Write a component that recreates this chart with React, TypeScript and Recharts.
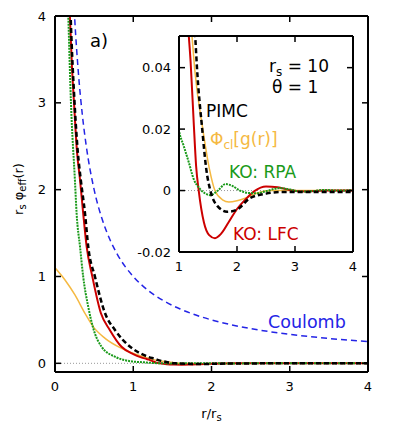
import React from 'react';
import { LineChart, Line, XAxis, YAxis, ReferenceLine } from 'recharts';

// ---- data ----
const coulombX = [0.2, 0.22, 0.25, 0.3, 0.35, 0.4, 0.5, 0.6, 0.7, 0.8, 1.0, 1.2, 1.4, 1.6, 1.8, 2.0, 2.25, 2.5, 2.75, 3.0, 3.25, 3.5, 3.75, 4.0];
const coulombY = [5.0, 4.545, 4.0, 3.333, 2.857, 2.5, 2.0, 1.667, 1.429, 1.25, 1.0, 0.833, 0.714, 0.625, 0.556, 0.5, 0.444, 0.4, 0.364, 0.333, 0.308, 0.286, 0.267, 0.25];

const pimcX = [0.18, 0.2, 0.25, 0.29, 0.33, 0.383, 0.425, 0.51, 0.64, 0.766, 0.96, 1.1, 1.2, 1.28, 1.31, 1.4, 1.47, 1.54, 1.66, 1.83, 2.0, 2.22, 2.5, 2.74, 3.0, 3.5, 4.0];
const pimcY = [4.6, 4.0, 3.0, 2.45, 2.11, 1.73, 1.34, 1.0, 0.576, 0.384, 0.19, 0.11, 0.072, 0.05, 0.04, 0.02, 0.007, 0.0, -0.005, -0.0069, -0.0062, -0.0025, -0.001, -0.0005, -0.0005, -0.0005, -0.0005];

const lfcX = [0.17, 0.19, 0.215, 0.243, 0.28, 0.32, 0.36, 0.405, 0.477, 0.587, 0.7, 0.85, 1.0, 1.1, 1.17, 1.2, 1.254, 1.295, 1.34, 1.43, 1.52, 1.62, 1.72, 1.85, 2.0, 2.15, 2.3, 2.5, 2.7, 2.9, 3.2, 3.5, 4.0];
const lfcY = [4.6, 4.0, 3.45, 3.0, 2.45, 2.11, 1.73, 1.34, 1.0, 0.576, 0.384, 0.19, 0.105, 0.068, 0.05, 0.042, 0.022, 0.008, 0.0, -0.0104, -0.0145, -0.0155, -0.0142, -0.0105, -0.006, -0.0028, -0.0002, 0.0013, 0.0011, 0.0002, -0.0003, 0.0, 0.0];

const rpaX = [0.15, 0.17, 0.204, 0.255, 0.276, 0.32, 0.36, 0.425, 0.49, 0.596, 0.766, 0.9, 1.0, 1.08, 1.17, 1.254, 1.34, 1.44, 1.54, 1.67, 1.8, 1.92, 2.05, 2.2, 2.34, 2.5, 2.74, 2.9, 3.1, 3.3, 3.5, 3.75, 4.0];
const rpaY = [4.6, 4.0, 3.0, 2.1, 1.73, 1.34, 1.0, 0.65, 0.4, 0.19, 0.076, 0.035, 0.0195, 0.0146, 0.0091, 0.0037, 0.001, -0.0008, -0.0015, 0.0, 0.0021, 0.0015, 0.0, -0.0008, -0.0009, -0.0002, 0.0008, 0.0004, -0.0003, -0.0002, 0.0002, 0.0, 0.0001];

const clX = [0.0, 0.128, 0.255, 0.383, 0.49, 0.64, 0.85, 1.06, 1.15, 1.225, 1.27, 1.41, 1.525, 1.62, 1.75, 1.86, 2.0, 2.14, 2.35, 2.6, 3.0, 4.0];
const clY = [1.1, 0.96, 0.787, 0.576, 0.42, 0.288, 0.173, 0.095, 0.07, 0.05, 0.0396, 0.02, 0.007, 0.0, -0.003, -0.0037, -0.0033, -0.0025, -0.0008, 0.0, 0.0, 0.0];

const mainXTicks = [0, 1, 2, 3, 4];
const mainYTicks = [0, 1, 2, 3, 4];
const insetXTicks = [1, 2, 3, 4];
const insetYTicks = [-0.02, 0, 0.02, 0.04];

const toPts = (xs: number[], ys: number[]) => xs.map((x, i) => ({ x, y: ys[i] }));
const coulomb = toPts(coulombX, coulombY);
const pimc = toPts(pimcX, pimcY);
const lfc = toPts(lfcX, lfcY);
const rpa = toPts(rpaX, rpaY);
const cl = toPts(clX, clY);

const FONT = 'DejaVu Sans';
const C_BLUE = '#2424e6';
const C_RED = '#cc0000';
const C_GREEN = '#1a9a1a';
const C_ORANGE = '#f5b942';

const tickStyle = { fontFamily: FONT, fontSize: 13, fill: '#000' };
const axisLineStyle = { stroke: '#000', strokeWidth: 2 };
const tickLineStyle = { stroke: '#000', strokeWidth: 1.5 };
const noLabel = () => <g />;

function series(xId: string, yId: string) {
  return [
    <Line key="cl" data={cl} xAxisId={xId} yAxisId={yId} dataKey="y" type="monotone" stroke={C_ORANGE} strokeWidth={1.5} dot={false} activeDot={false} isAnimationActive={false} />,
    <Line key="lfc" data={lfc} xAxisId={xId} yAxisId={yId} dataKey="y" type="monotone" stroke={C_RED} strokeWidth={2} dot={false} activeDot={false} isAnimationActive={false} />,
    <Line key="rpa" data={rpa} xAxisId={xId} yAxisId={yId} dataKey="y" type="monotone" stroke={C_GREEN} strokeWidth={2} strokeDasharray="2 1" dot={false} activeDot={false} isAnimationActive={false} />,
    <Line key="pimc" data={pimc} xAxisId={xId} yAxisId={yId} dataKey="y" type="monotone" stroke="#000" strokeWidth={2.5} strokeDasharray="5 3" dot={false} activeDot={false} isAnimationActive={false} />,
  ];
}

export default function App() {
  return (
    <div style={{ position: 'absolute', left: 0, top: 0, width: 395, height: 439, background: '#fff' }}>
      <div style={{ position: 'absolute', left: 0, top: 0 }}>
        <LineChart width={395} height={439} margin={{ top: 15, right: 26, bottom: 37, left: 10 }}>
          <XAxis xAxisId="b" dataKey="x" type="number" domain={[0, 4]} ticks={mainXTicks} allowDataOverflow orientation="bottom" height={30}
            tickSize={-6} tickMargin={16} tick={tickStyle} axisLine={axisLineStyle} tickLine={tickLineStyle} />
          <XAxis xAxisId="t" dataKey="x" type="number" domain={[0, 4]} ticks={mainXTicks} allowDataOverflow orientation="top" height={1}
            tickSize={-6} tick={noLabel} axisLine={axisLineStyle} tickLine={tickLineStyle} />
          <YAxis yAxisId="l" type="number" domain={[-0.1, 4]} ticks={mainYTicks} allowDataOverflow width={45}
            tickSize={-6} tickMargin={15} tick={tickStyle} axisLine={axisLineStyle} tickLine={tickLineStyle} />
          <YAxis yAxisId="r" orientation="right" type="number" domain={[-0.1, 4]} ticks={mainYTicks} allowDataOverflow width={1}
            tickSize={-6} tick={noLabel} axisLine={axisLineStyle} tickLine={tickLineStyle} />
          <ReferenceLine xAxisId="b" yAxisId="l" y={0} stroke="#999" strokeWidth={1} strokeDasharray="1 2" />
          <Line data={coulomb} xAxisId="b" yAxisId="l" dataKey="y" type="monotone" stroke={C_BLUE} strokeWidth={1.5} strokeDasharray="6 4" dot={false} activeDot={false} isAnimationActive={false} />
          {series('b', 'l')}
        </LineChart>
      </div>
      <div style={{ position: 'absolute', left: 130, top: 26 }}>
        <LineChart width={230} height={256} margin={{ top: 9, right: 6, bottom: 0, left: 0 }}>
          <XAxis xAxisId="b" dataKey="x" type="number" domain={[1, 4]} ticks={insetXTicks} allowDataOverflow orientation="bottom" height={30}
            tickSize={-6} tickMargin={16} tick={tickStyle} axisLine={axisLineStyle} tickLine={tickLineStyle} />
          <XAxis xAxisId="t" dataKey="x" type="number" domain={[1, 4]} ticks={insetXTicks} allowDataOverflow orientation="top" height={1}
            tickSize={-6} tick={noLabel} axisLine={axisLineStyle} tickLine={tickLineStyle} />
          <YAxis yAxisId="l" type="number" domain={[-0.02, 0.0503]} ticks={insetYTicks} allowDataOverflow width={49}
            tickSize={-6} tickMargin={14} tick={tickStyle} axisLine={axisLineStyle} tickLine={tickLineStyle} />
          <YAxis yAxisId="r" orientation="right" type="number" domain={[-0.02, 0.0503]} ticks={insetYTicks} allowDataOverflow width={1}
            tickSize={-6} tick={noLabel} axisLine={axisLineStyle} tickLine={tickLineStyle} />
          <ReferenceLine xAxisId="b" yAxisId="l" y={0} stroke="#999" strokeWidth={1} strokeDasharray="1 2" />
          {series('b', 'l')}
        </LineChart>
      </div>
      <svg width={395} height={439} style={{ position: 'absolute', left: 0, top: 0, pointerEvents: 'none' }} fontFamily={FONT}>
        <text x={90} y={47} fontSize={18} fill="#000">a)</text>
        <text x={268} y={327.5} fontSize={17.5} fill={C_BLUE}>Coulomb</text>
        <text x={211.5} y={418} fontSize={13} fill="#000" textAnchor="middle">r/r<tspan fontSize={10} dy={3}>s</tspan></text>
        <text transform="translate(23,189) rotate(-90)" fontSize={13} fill="#000" textAnchor="middle">
          r<tspan fontSize={10} dy={3}>s</tspan><tspan dy={-3}> φ</tspan><tspan fontSize={10} dy={3}>eff</tspan><tspan dy={-3}>(r)</tspan>
        </text>
        <text x={269} y={71.5} fontSize={17} fill="#000">r<tspan fontSize={12} dy={4}>s</tspan><tspan dy={-4}> = 10</tspan></text>
        <text x={272} y={93} fontSize={17} fill="#000">θ = 1</text>
        <text x={206} y={117} fontSize={17} fill="#000">PIMC</text>
        <text x={210} y={145} fontSize={17} fill={C_ORANGE}>Φ<tspan fontSize={12} dy={4}>cl</tspan><tspan dy={-4}>[g(r)]</tspan></text>
        <text x={229} y={178} fontSize={17} fill={C_GREEN}>KO: RPA</text>
        <text x={233} y={240} fontSize={17} fill={C_RED}>KO: LFC</text>
      </svg>
    </div>
  );
}
